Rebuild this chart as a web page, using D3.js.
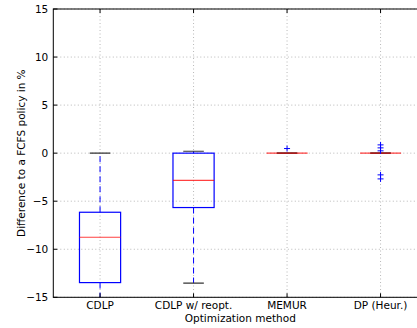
<!DOCTYPE html>
<html>
<head>
<meta charset="utf-8">
<script src="https://cdn.jsdelivr.net/npm/d3@7"></script>
<style>
  body { margin: 0; background: #fff; }
  svg { display: block; font-family: "DejaVu Sans", sans-serif; }
</style>
</head>
<body>
<svg id="chart" width="417" height="328"></svg>
<script>
// box statistics
const methods   = ["CDLP", "CDLP w/ reopt.", "MEMUR", "DP (Heur.)"];
const whiskLow  = [-16.5, -13.53, 0, 0];
const q1        = [-13.47, -5.66, 0, 0];
const medians   = [-8.75, -2.84, 0, 0];
const q3        = [-6.15, 0, 0, 0];
const whiskHigh = [0, 0.2, 0, 0];
const fliers    = [[], [], [0.48], [0.86, 0.55, 0.24, -2.26, -2.68]];
const yTicks    = [-15, -10, -5, 0, 5, 10, 15];

const W = 417, H = 328;
const M = {t: 9, l: 53.3, b: 297.3, r: 427.3};

const svg = d3.select("#chart");

const x = d3.scaleLinear().domain([0.5, 4.5]).range([M.l, M.r]);
const y = d3.scaleLinear().domain([-15, 15]).range([M.b, M.t]);
const boxW = 0.44 * (x(2) - x(1));
const capW = boxW / 2;

svg.append("defs").append("clipPath").attr("id", "plot")
  .append("rect").attr("x", M.l).attr("y", M.t)
  .attr("width", M.r - M.l).attr("height", M.b - M.t);

// grid
const grid = svg.append("g").attr("stroke", "#888").attr("stroke-width", 0.6)
  .attr("stroke-dasharray", "1,2.5");
yTicks.forEach(t => grid.append("line")
  .attr("x1", M.l).attr("x2", M.r).attr("y1", y(t)).attr("y2", y(t)));
methods.forEach((m, i) => grid.append("line")
  .attr("x1", x(i + 1)).attr("x2", x(i + 1)).attr("y1", M.t).attr("y2", M.b));

// boxes
const plot = svg.append("g").attr("clip-path", "url(#plot)");
methods.forEach((m, i) => {
  const cx = x(i + 1);
  const g = plot.append("g");
  // whiskers
  g.append("line").attr("x1", cx).attr("x2", cx)
    .attr("y1", y(q3[i])).attr("y2", y(whiskHigh[i]))
    .attr("stroke", "#0000ff").attr("stroke-dasharray", "6,4");
  g.append("line").attr("x1", cx).attr("x2", cx)
    .attr("y1", y(q1[i])).attr("y2", y(whiskLow[i]))
    .attr("stroke", "#0000ff").attr("stroke-dasharray", "6,4");
  // caps
  [whiskLow[i], whiskHigh[i]].forEach(v => g.append("line")
    .attr("x1", cx - capW / 2).attr("x2", cx + capW / 2)
    .attr("y1", y(v)).attr("y2", y(v))
    .attr("stroke", "#333").attr("stroke-width", 1.2));
  // box
  g.append("rect").attr("x", cx - boxW / 2).attr("width", boxW)
    .attr("y", y(q3[i])).attr("height", Math.max(0, y(q1[i]) - y(q3[i])))
    .attr("fill", "none").attr("stroke", "#0000ff").attr("stroke-width", 1.2);
  // median
  g.append("line").attr("x1", cx - boxW / 2).attr("x2", cx + boxW / 2)
    .attr("y1", y(medians[i])).attr("y2", y(medians[i]))
    .attr("stroke", "#ff0000").attr("stroke-opacity", 0.75).attr("stroke-width", 1.2);
  // fliers
  fliers[i].forEach(v => {
    g.append("path").attr("d", `M${cx - 3},${y(v)}H${cx + 3}M${cx},${y(v) - 3}V${y(v) + 3}`)
      .attr("stroke", "#0000ff").attr("stroke-width", 1);
  });
});

// spines + inward ticks
const axes = svg.append("g").attr("stroke", "#000").attr("stroke-width", 1);
axes.append("rect").attr("x", M.l).attr("y", M.t)
  .attr("width", M.r - M.l).attr("height", M.b - M.t).attr("fill", "none");
yTicks.forEach(t => {
  axes.append("line").attr("x1", M.l).attr("x2", M.l + 4).attr("y1", y(t)).attr("y2", y(t));
});
methods.forEach((m, i) => {
  axes.append("line").attr("x1", x(i + 1)).attr("x2", x(i + 1)).attr("y1", M.b).attr("y2", M.b - 4);
  axes.append("line").attr("x1", x(i + 1)).attr("x2", x(i + 1)).attr("y1", M.t).attr("y2", M.t + 4);
});

// labels
const txt = svg.append("g").attr("font-size", 10.5).attr("fill", "#000");
yTicks.forEach(t => txt.append("text")
  .attr("x", M.l - 5).attr("y", y(t)).attr("dy", "0.35em")
  .attr("text-anchor", "end").text(t < 0 ? "\u2212" + Math.abs(t) : t));
methods.forEach((m, i) => txt.append("text")
  .attr("x", x(i + 1)).attr("y", 309).attr("text-anchor", "middle").text(m));
txt.append("text").attr("x", (M.l + M.r) / 2).attr("y", 322)
  .attr("text-anchor", "middle").text("Optimization method");
txt.append("text").attr("transform", `translate(25,${(M.t + M.b) / 2}) rotate(-90)`)
  .attr("text-anchor", "middle").text("Difference to a FCFS policy in %");
</script>
</body>
</html>
